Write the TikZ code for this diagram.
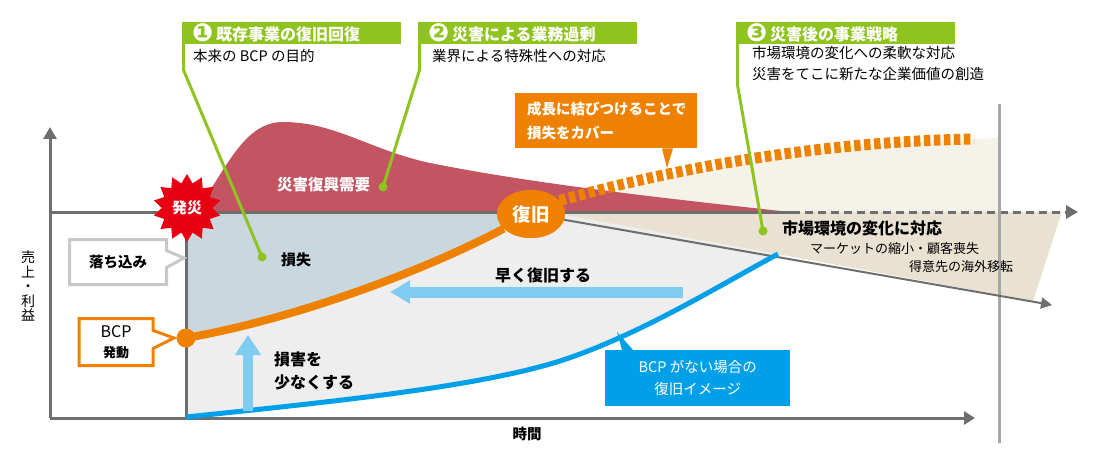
\documentclass[tikz,border=0pt]{standalone}
\usepackage{fontspec}
\setmainfont{Noto Sans CJK JP}
\newfontfamily\numfont{DejaVu Sans}
\usetikzlibrary{arrows.meta,shapes.geometric,shapes.callouts}

\definecolor{leaf}{HTML}{8FC31F}
\definecolor{bcporange}{HTML}{EE8200}
\definecolor{nobcpblue}{HTML}{00A0E9}
\definecolor{skyarrow}{HTML}{80CCF1}
\definecolor{demandred}{HTML}{C35461}
\definecolor{lossgray}{HTML}{C9D7DF}
\definecolor{gapgray}{HTML}{EEEEEE}
\definecolor{marketbeige}{HTML}{E9E2D2}
\definecolor{growthbeige}{HTML}{F5F2E9}
\definecolor{axisgray}{HTML}{6E6E6E}
\definecolor{framegray}{HTML}{C8C8C8}
\definecolor{alarmred}{HTML}{E60012}

\newcommand{\goalno}[1]{\raisebox{-1pt}{\numfont\fontsize{25}{18}\selectfont #1}}

\tikzset{
  headbox/.style={fill=leaf,text=white,anchor=north west,inner xsep=10pt,inner ysep=0pt,
    text width=199pt,minimum height=22pt,align=left,font=\fontsize{16}{18}\selectfont\bfseries},
  subtext/.style={anchor=west,inner sep=0pt,align=left,font=\fontsize{14.5}{21}\selectfont},
  leader/.style={leaf,line width=3pt},
  leafdot/.style={circle,fill=leaf,inner sep=0pt,minimum size=9pt},
  boldtext/.style={inner sep=0pt,font=\fontsize{16}{23}\selectfont\bfseries},
  smalltext/.style={anchor=west,inner sep=0pt,font=\fontsize{13}{15}\selectfont},
  axis/.style={axisgray,line width=3pt},
  sidenote/.style={rectangle callout,fill=white,line width=3pt,inner sep=0pt,align=center},
}

\begin{document}
\begin{tikzpicture}[x=1pt,y=-1pt]
  \useasboundingbox (0,0) rectangle (1099,465);

  % areas
  \fill[growthbeige] (565,212) .. controls (650,175) and (800,142) .. (974,139) -- (999,138) -- (999,212) -- cycle;
  \fill[demandred] (196,212) .. controls (228,165) and (245,122) .. (283,122)
    .. controls (335,122) and (370,150) .. (430,163)
    .. controls (540,185) and (680,200) .. (790,212) -- cycle;
  \fill[lossgray] (186,212) -- (531,212) -- (522,218) .. controls (430,268) and (300,318) .. (186,338) -- cycle;
  \fill[gapgray] (186,338) .. controls (300,318) and (430,268) .. (522,218) -- (565,215) -- (778,254)
    .. controls (720,285) and (640,335) .. (560,361) .. controls (480,386) and (350,400) .. (186,417) -- cycle;
  \fill[marketbeige] (565,212) -- (1062,212) -- (1033,301) -- (565,215) -- cycle;

  % axes
  \draw[axis,-{Triangle[length=12pt,width=13pt]}] (50,418) -- (50,127);
  \draw[axis,-{Triangle[length=11pt,width=13pt]}] (50,418) -- (975,418);
  \draw[axis] (50,212) -- (792,212);
  \draw[axis,dash pattern=on 8pt off 5pt,-{Triangle[length=12pt,width=13pt]}] (792,212) -- (1078,212);
  \draw[axis] (186,212) -- (186,418);
  \draw[black!35,line width=3pt] (999,104) -- (999,443);
  \node[align=center,inner sep=0pt,font=\fontsize{14}{14.5}\selectfont] (ylabel) at (28,286) {売\\上\\・\\利\\益};
  \node[boldtext,font=\fontsize{14.5}{16}\selectfont\bfseries] (xlabel) at (527,434) {時間};

  % recovery curves
  \node[ellipse,fill=bcporange,text=white,minimum width=68pt,minimum height=48pt,inner sep=0pt,
    font=\fontsize{18.5}{20}\selectfont\bfseries] (fukkyu) at (531,214) {復旧};
  \coordinate (growthend) at (974,139);
  \coordinate (shrinkend) at (1052,305);
  \coordinate (nobcpstart) at (186,417);
  \coordinate (nobcpend) at (778,254);
  \draw[axisgray,line width=2pt,-{Triangle[length=11pt,width=11pt]}] (fukkyu) -- (shrinkend);
  \draw[nobcpblue,line width=5pt] (nobcpstart) .. controls (350,400) and (480,386) .. (560,361)
    .. controls (640,335) and (720,285) .. (nobcpend);
  \node[circle,fill=bcporange,minimum size=19pt,inner sep=0pt] (bcpstart) at (186,338) {};
  \draw[bcporange,line width=8pt] (bcpstart.center) .. controls (300,318) and (430,268) .. (fukkyu);
  \draw[bcporange,line width=11pt,dash pattern=on 6.5pt off 3.5pt] (fukkyu.25) .. controls (650,175) and (800,142) .. (growthend);
  \node[ellipse,fill=bcporange,text=white,minimum width=68pt,minimum height=48pt,inner sep=0pt,
    font=\fontsize{18.5}{20}\selectfont\bfseries] at (fukkyu) {復旧};

  % light blue arrows
  \coordinate (lessfoot) at (248,411);
  \coordinate (lesstip) at (248,335);
  \coordinate (fastfoot) at (683,292);
  \coordinate (fasttip) at (390,292);
  \draw[skyarrow,line width=10pt,-{Triangle[length=20pt,width=25pt]}] (lessfoot) -- (lesstip);
  \draw[skyarrow,line width=11pt,-{Triangle[length=20pt,width=22pt]}] (fastfoot) -- (fasttip);
  \node[boldtext] (fastlabel) at (543,275) {早く復旧する};
  \node[boldtext,anchor=west,align=left] (lesslabel) at (274,371) {損害を\\少なくする};

  % area labels
  \node[boldtext,font=\fontsize{15}{17}\selectfont\bfseries] (losslabel) at (296,260) {損失};
  \node[boldtext,anchor=west,text=white,font=\fontsize{15.5}{17}\selectfont\bfseries] (demandlabel) at (277,185) {災害復興需要};
  \node[boldtext,anchor=west] (marketlabel) at (782,228) {市場環境の変化に対応};
  \node[smalltext] (marketsub1) at (810,249) {マーケットの縮小・顧客喪失};
  \node[smalltext] (marketsub2) at (909,267) {得意先の海外移転};

  % green headings and leaders
  \node[headbox] (goal1) at (182,22) {\goalno{❶}\,既存事業の復旧回復};
  \node[headbox] (goal2) at (418,22) {\goalno{❷}\,災害による業務過剰};
  \node[headbox] (goal3) at (736,22) {\goalno{❸}\,災害後の事業戦略};
  \node[subtext] (goal1sub) at (193,56) {本来の BCP の目的};
  \node[subtext] (goal2sub) at (432,56) {業界による特殊性への対応};
  \node[subtext,anchor=north west] (goal3sub) at (752,46) {市場環境の変化への柔軟な対応\\災害をてこに新たな企業価値の創造};
  \node[leafdot] (lossdot) at (262,257) {};
  \node[leafdot] (demanddot) at (383,187) {};
  \node[leafdot] (marketdot) at (763,231) {};
  \draw[leader] ([xshift=1.5pt]goal1.north west) -- ++(0,48) -- (lossdot.center);
  \draw[leader] ([xshift=1.5pt]goal2.north west) -- ++(0,48) -- (demanddot.center);
  \draw[leader] ([xshift=1.5pt]goal3.north west) -- ++(0,63) -- (marketdot.center);

  % callouts
  \node[fill=bcporange,text=white,anchor=north west,minimum width=182pt,minimum height=55pt,
    inner xsep=12pt,text width=158pt,align=left,font=\fontsize{14.5}{24}\selectfont\bfseries] (growthnote) at (515,93)
    {成長に結びつけることで\\損失をカバー};
  \coordinate (growthtip) at (667,168);
  \fill[bcporange] ([xshift=147pt]growthnote.south west) -- (growthtip) -- ([xshift=158pt]growthnote.south west) -- cycle;
  \node[fill=nobcpblue,text=white,anchor=north west,minimum width=185pt,minimum height=56pt,
    align=center,font=\fontsize{14.5}{22}\selectfont] (nobcpnote) at (605,350) {BCP がない場合の\\復旧イメージ};
  \coordinate (nobcptip) at (617,332);
  \fill[nobcpblue] ([xshift=17pt]nobcpnote.north west) -- (nobcptip) -- ([xshift=28pt]nobcpnote.north west) -- cycle;
  \coordinate (droptip) at (184,258);
  \coordinate (bcptip) at (174,338);
  \node[sidenote,draw=framegray,minimum width=97pt,minimum height=45pt,callout absolute pointer={(droptip)},
    callout pointer width=17pt,font=\fontsize{14.5}{16}\selectfont\bfseries] (dropnote) at (118,262) {落ち込み};
  \node[sidenote,draw=bcporange,minimum width=74pt,minimum height=47pt,callout absolute pointer={(bcptip)},
    callout pointer width=18pt,font=\fontsize{16}{20}\selectfont] (bcpnote) at (116,342)
    {BCP\\{\fontsize{13}{15}\selectfont\bfseries 発動}};

  % disaster mark
  \node[star,star points=14,star point ratio=1.35,fill=alarmred,text=white,minimum size=68pt,inner sep=0pt,
    font=\fontsize{15}{17}\selectfont\bfseries] (hassai) at (187,208) {発災};
\end{tikzpicture}
\end{document}
